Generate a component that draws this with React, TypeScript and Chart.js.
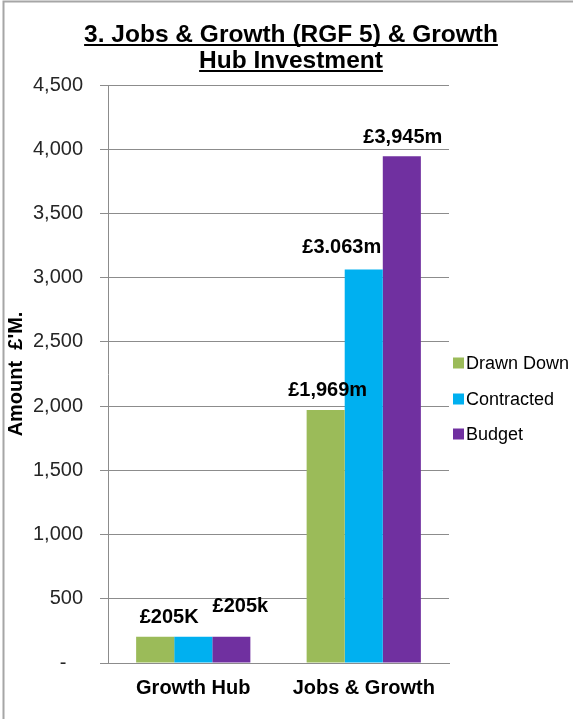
import React, { useEffect, useRef } from 'react';
import { Chart, registerables } from 'chart.js';

Chart.register(...registerables);

const categories = ['Growth Hub', 'Jobs & Growth'];
const seriesNames = ['Drawn Down', 'Contracted', 'Budget'];
const drawnDown = [205, 1969];
const contracted = [205, 3063];
const budget = [205, 3945];
const drawnDownLabels = ['£205K', '£1,969m'];
const contractedLabels = ['', '£3.063m'];
const budgetLabels = ['£205k', '£3,945m'];
const titleLines = ['3. Jobs & Growth (RGF 5) & Growth', 'Hub Investment'];
const yAxisTitle = "Amount  £'M.";
const yMin = 0;
const yMax = 4500;
const yStep = 500;

const colors = ['#9BBB59', '#00B0F0', '#7030A0'];
const FONT = "'Liberation Sans', Arial, sans-serif";

// label offsets (style): [dx, dy above bar top to label centre]
const labelOffsets = [
  [[14, 19], [2, 20]],
  [[0, 20], [-22, 22]],
  [[9, 30], [1, 19]],
];

const framePlugin = {
  id: 'frame',
  beforeDraw(chart: any) {
    const ctx = chart.ctx;
    ctx.save();
    ctx.fillStyle = '#ffffff';
    ctx.fillRect(0, 0, chart.width, chart.height);
    ctx.strokeStyle = '#a6a6a6';
    ctx.lineWidth = 2;
    ctx.beginPath();
    ctx.moveTo(3.5, chart.height);
    ctx.lineTo(3.5, 1.5);
    ctx.lineTo(chart.width, 1.5);
    ctx.stroke();
    ctx.restore();
  },
  afterDraw(chart: any) {
    const ctx = chart.ctx;
    ctx.save();
    // title
    ctx.font = `bold 24.5px ${FONT}`;
    ctx.fillStyle = '#000';
    ctx.textAlign = 'center';
    ctx.textBaseline = 'alphabetic';
    const cx = 291;
    const baselines = [42, 68];
    titleLines.forEach((t, i) => {
      ctx.fillText(t, cx, baselines[i]);
      const w = ctx.measureText(t).width;
      ctx.fillRect(cx - w / 2, baselines[i] + 2, w, 2);
    });
    // legend
    const rowY = [363, 399, 434];
    ctx.font = `18px ${FONT}`;
    ctx.textAlign = 'left';
    ctx.textBaseline = 'middle';
    chart.data.datasets.forEach((ds: any, i: number) => {
      ctx.fillStyle = ds.backgroundColor;
      ctx.fillRect(453, rowY[i] - 5.5, 11, 11);
      ctx.fillStyle = '#000';
      ctx.fillText(ds.label, 466, rowY[i] + 1);
    });
    ctx.restore();
  },
};

const valueLabelPlugin = {
  id: 'valueLabels',
  afterDatasetsDraw(chart: any) {
    const ctx = chart.ctx;
    const all = [drawnDownLabels, contractedLabels, budgetLabels];
    ctx.save();
    ctx.font = `bold 20px ${FONT}`;
    ctx.fillStyle = '#000';
    ctx.textAlign = 'center';
    ctx.textBaseline = 'middle';
    chart.data.datasets.forEach((_ds: any, di: number) => {
      const meta = chart.getDatasetMeta(di);
      meta.data.forEach((el: any, i: number) => {
        const txt = all[di][i];
        if (!txt) return;
        const [dx, dy] = labelOffsets[di][i];
        ctx.fillText(txt, el.x + dx, el.y - dy);
      });
    });
    ctx.restore();
  },
};

export default function App() {
  const ref = useRef<HTMLCanvasElement | null>(null);
  useEffect(() => {
    if (!ref.current) return;
    const chart = new Chart(ref.current, {
      type: 'bar',
      data: {
        labels: categories,
        datasets: [
          { label: seriesNames[0], data: drawnDown, backgroundColor: colors[0] },
          { label: seriesNames[1], data: contracted, backgroundColor: colors[1] },
          { label: seriesNames[2], data: budget, backgroundColor: colors[2] },
        ],
      },
      options: {
        animation: false,
        responsive: false,
        maintainAspectRatio: false,
        devicePixelRatio: 1,
        layout: { padding: { left: 0, top: 85, right: 124, bottom: 0 } },
        datasets: { bar: { categoryPercentage: 0.67, barPercentage: 1 } },
        plugins: {
          legend: { display: false },
          title: { display: false },
          tooltip: { enabled: false },
        },
        scales: {
          x: {
            grid: { display: false, drawTicks: false },
            border: { display: true, color: '#8c8c8c', width: 1 },
            ticks: { color: '#000', font: { family: FONT, size: 20, weight: 'bold' }, padding: 13 },
            afterFit(scale: any) { scale.height = 56; },
          },
          y: {
            min: yMin,
            max: yMax,
            grid: { color: '#8c8c8c', tickLength: 8, drawTicks: true },
            border: { display: true, color: '#8c8c8c', width: 1 },
            ticks: {
              stepSize: yStep,
              color: '#262626',
              font: { family: FONT, size: 20 },
              padding: 17,
              callback: (v: any) => (Number(v) === 0 ? '-   ' : Number(v).toLocaleString('en-US')),
            },
            title: {
              display: true,
              text: yAxisTitle,
              color: '#000',
              font: { family: FONT, size: 20, weight: 'bold' },
              padding: { top: 4, bottom: 0 },
            },
            afterFit(scale: any) { scale.width = 108; },
          },
        },
      },
      plugins: [framePlugin, valueLabelPlugin],
    } as any);
    return () => chart.destroy();
  }, []);
  return (
    <div style={{ position: 'absolute', left: 0, top: 0, width: 573, height: 719 }}>
      <canvas ref={ref} width={573} height={719} style={{ width: 573, height: 719 }} />
    </div>
  );
}
